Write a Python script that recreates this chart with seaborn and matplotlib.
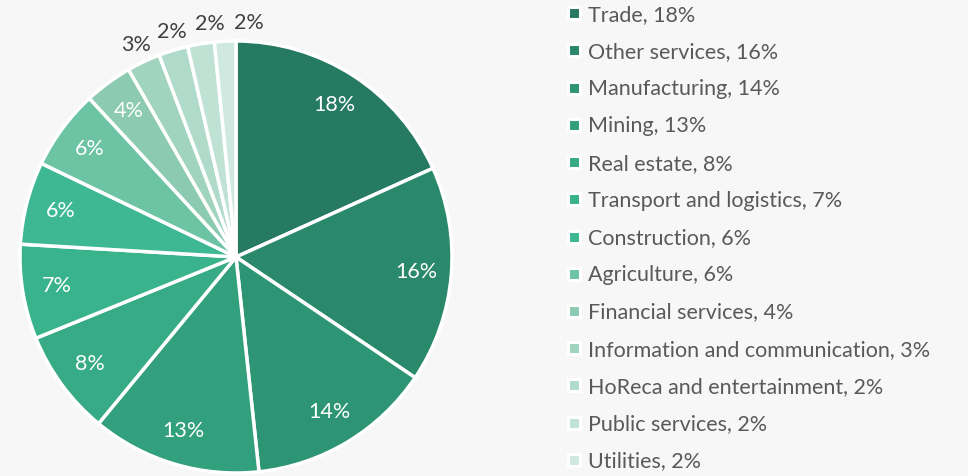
import matplotlib
matplotlib.use("Agg")
import matplotlib.pyplot as plt
from matplotlib.lines import Line2D
import numpy as np
import seaborn as sns

sectors = ["Trade", "Other services", "Manufacturing", "Mining", "Real estate",
           "Transport and logistics", "Construction", "Agriculture",
           "Financial services", "Information and communication",
           "HoReca and entertainment", "Public services", "Utilities"]
# labelled shares, %
share_labels = [18, 16, 14, 13, 8, 7, 6, 6, 4, 3, 2, 2, 2]
# slice sizes, %
slice_sizes = [18.3, 16.2, 13.9, 12.7, 7.9, 7.1, 6.2, 6.0, 3.6, 2.5, 2.2, 2.0, 1.6]
colors = ["#267a62", "#2a886b", "#2e9574", "#32a07c", "#36ab85", "#39b38c",
          "#3db893", "#6cc4a4", "#8ccbb2", "#a0d4bf", "#b0dbca", "#c0e2d5",
          "#d0e9e0"]

sns.set_theme(style="white")
plt.rcParams["font.family"] = ["Lato", "DejaVu Sans"]
palette = sns.color_palette(colors)

bg = "#f7f7f7"
fig = plt.figure(figsize=(9.68, 4.76), dpi=100, facecolor=bg)

# pie: center (236, 257) px, radius 216 px
cx, cy, r = 236, 257, 216
ax = fig.add_axes([(cx - r) / 968, (476 - cy - r) / 476, 2 * r / 968, 2 * r / 476])
ax.set_facecolor(bg)
wedges, _ = ax.pie(slice_sizes, colors=palette, startangle=90, counterclock=False,
                   radius=1, wedgeprops=dict(edgecolor="white", linewidth=2.5))
for w in wedges:
    w.set_clip_on(False)
ax.set_xlim(-1, 1)
ax.set_ylim(-1, 1)
ax.set_aspect("equal")
ax.axis("off")

# data labels: inside for big slices, outside (pushed apart) for small ones
total = sum(slice_sizes)
angle = 90.0
prev_out = None
for val, lab in zip(slice_sizes, share_labels):
    span = val / total * 360
    mid = angle - span / 2
    angle -= span
    if lab >= 4:
        rr, col = 0.84, "white"
    else:
        if prev_out is not None:
            mid = min(mid, prev_out - 9.5)
        prev_out = mid
        rr, col = 1.085, "#404040"
    t = np.deg2rad(mid)
    ax.text(rr * np.cos(t), rr * np.sin(t), f"{lab}%", ha="center",
            va="center", color=col, fontsize=15.5, clip_on=False)

handles = [Line2D([], [], marker="s", linestyle="none", markersize=9,
                  markerfacecolor=c, markeredgecolor="white", markeredgewidth=2.2)
           for c in palette]
labels = [f"{s}, {v}%" for s, v in zip(sectors, share_labels)]
leg = fig.legend(handles, labels, loc="upper left",
                 bbox_to_anchor=(557 / 968, 1.008), frameon=False,
                 fontsize=15.5, labelspacing=0.8, handlelength=0.8,
                 handletextpad=0.22, borderaxespad=0.0, labelcolor="#595959")

fig.savefig("out.png", dpi=100, facecolor=bg)
